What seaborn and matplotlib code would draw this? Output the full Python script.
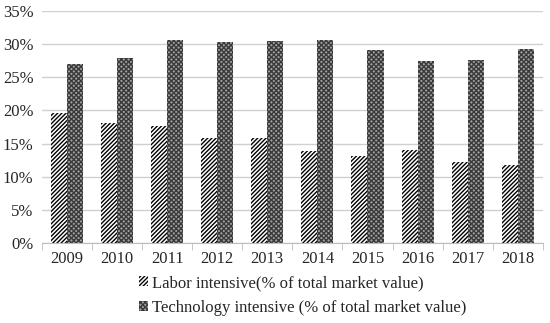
import matplotlib
matplotlib.use("Agg")
import matplotlib.pyplot as plt
import seaborn as sns
import pandas as pd
import numpy as np
from matplotlib.ticker import PercentFormatter, FixedLocator
from matplotlib.patches import Patch

years = ["2009", "2010", "2011", "2012", "2013", "2014", "2015", "2016", "2017", "2018"]
labor = [19.6, 18.1, 17.7, 15.8, 15.8, 13.8, 13.1, 14.0, 12.2, 11.8]
tech = [27.0, 27.9, 30.6, 30.3, 30.5, 30.6, 29.1, 27.4, 27.6, 29.3]
series = ["Labor intensive(% of total market value)",
          "Technology intensive (% of total market value)"]

df = pd.DataFrame({
    "year": years * 2,
    "value": labor + tech,
    "series": [series[0]] * len(years) + [series[1]] * len(years),
})

sns.set_style("white")
plt.rcParams["font.family"] = ["Liberation Serif", "DejaVu Serif"]
plt.rcParams["hatch.linewidth"] = 1.0

fig = plt.figure(figsize=(5.5, 3.23), dpi=100)
ax = fig.add_axes([0.076, 0.248, 0.911, 0.718])

sns.barplot(data=df, x="year", y="value", hue="series", ax=ax,
            width=0.64, gap=0, legend=False, saturation=1)

LAB = dict(facecolor="white", edgecolor="black", hatch="////////", linewidth=0)
TEC = dict(facecolor="#a0a0a0", edgecolor="#3a3a3a", hatch="xxxxxxx", linewidth=0)

n = len(years)
for i, p in enumerate(ax.patches[:2 * n]):
    st = LAB if i < n else TEC
    p.set_facecolor(st["facecolor"])
    p.set_edgecolor(st["edgecolor"])
    p.set_hatch(st["hatch"])
    p.set_linewidth(0)

ax.set_ylim(0, 35)
ax.set_yticks(np.arange(0, 36, 5))
ax.yaxis.set_major_formatter(PercentFormatter(decimals=0))
ax.grid(axis="y", color="#d0d0d0", linewidth=1)
ax.set_axisbelow(True)
ax.set_xlim(-0.5, n - 0.5)
for s in ["left", "right", "top"]:
    ax.spines[s].set_visible(False)
ax.spines["bottom"].set_color("#bdbdbd")
ax.xaxis.set_minor_locator(FixedLocator(np.arange(-0.5, n, 1)))
ax.tick_params(axis="x", which="major", length=0, pad=6, labelsize=12)
ax.tick_params(axis="x", which="minor", length=5, color="#bdbdbd", bottom=True)
ax.tick_params(axis="y", length=0, labelsize=12, pad=6)
ax.set_xlabel("")
ax.set_ylabel("")

handles = [Patch(**LAB), Patch(**TEC)]
fig.legend(handles, series, loc="upper left", bbox_to_anchor=(0.253, 0.148),
           frameon=False, fontsize=12, handlelength=0.55, handleheight=0.55,
           handletextpad=0.2, labelspacing=0.5, borderaxespad=0, borderpad=0)

fig.savefig("out.png", dpi=100)
